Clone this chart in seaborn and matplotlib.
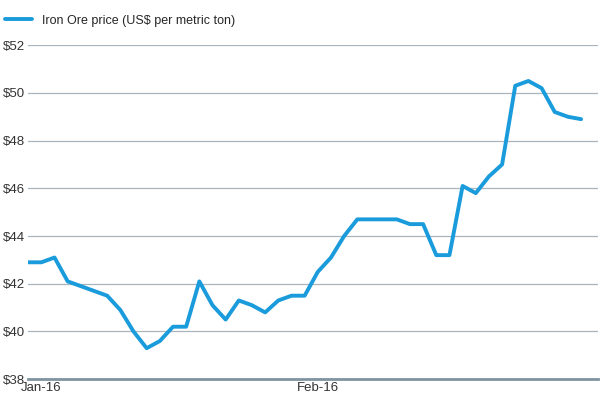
import matplotlib
matplotlib.use("Agg")
import matplotlib.pyplot as plt
import seaborn as sns

# trading-day index and iron ore price
day = [0, 1, 2, 3, 6, 7, 8, 9, 10, 11, 12, 13, 14, 15, 16, 17, 18, 19, 20, 21,
       22, 23, 24, 25, 26, 27, 28, 29, 30, 31, 32, 33, 34, 35, 36, 37, 38, 39,
       40, 41, 42]
price = [42.9, 42.9, 43.1, 42.1, 41.5, 40.9, 40.0, 39.3, 39.6, 40.2, 40.2, 42.1,
         41.1, 40.5, 41.3, 41.1, 40.8, 41.3, 41.5, 41.5, 42.5, 43.1, 44.0, 44.7,
         44.7, 44.7, 44.7, 44.5, 44.5, 43.2, 43.2, 46.1, 45.8, 46.5, 47.0, 50.3,
         50.5, 50.2, 49.2, 49.0, 48.9]
tick_pos = [1, 22]
tick_labels = ["Jan-16", "Feb-16"]
y_ticks = [38, 40, 42, 44, 46, 48, 50, 52]

sns.set_style("white")
plt.rcParams['font.family'] = ['Liberation Sans', 'DejaVu Sans']

fig = plt.figure(figsize=(6, 4), dpi=100)
ax = fig.add_axes([0.047, 0.052, 0.95, 0.835])
sns.lineplot(x=day, y=price, ax=ax, color="#1a9bdb", linewidth=2.8,
             label="Iron Ore price (US$ per metric ton)")

ax.set_xlim(0, 43.3)
ax.set_ylim(38, 52)
ax.set_yticks(y_ticks)
ax.set_yticklabels([f"${v}" for v in y_ticks], fontsize=9.5, color="#333333")
ax.set_xticks(tick_pos)
ax.set_xticklabels(tick_labels, fontsize=9.5, color="#333333")
ax.tick_params(axis="both", length=0, pad=2)
ax.grid(axis="y", color="#aab4bc", linewidth=0.9)
for s in ["top", "right", "left"]:
    ax.spines[s].set_visible(False)
ax.spines["bottom"].set_color("#7f93a0")
ax.spines["bottom"].set_linewidth(2)
ax.set_xlabel("")
ax.set_ylabel("")
ax.legend(loc="lower left", bbox_to_anchor=(-0.05, 1.04), frameon=False,
          fontsize=9, handlelength=2.2, borderaxespad=0)

fig.savefig("out.png", dpi=100)
